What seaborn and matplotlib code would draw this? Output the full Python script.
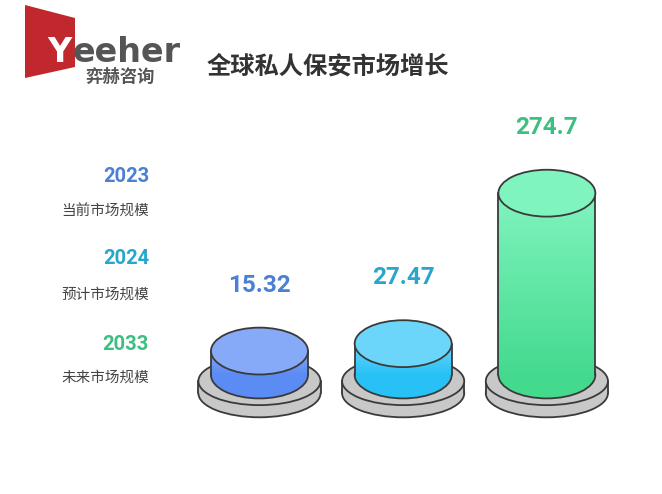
import numpy as np
import pandas as pd
import matplotlib
matplotlib.use("Agg")
import matplotlib.pyplot as plt
from matplotlib.patches import Ellipse, Rectangle, Polygon
from matplotlib.colors import LinearSegmentedColormap
import seaborn as sns

# data
years = ["2023", "2024", "2033"]
labels = ["当前市场规模", "预计市场规模", "未来市场规模"]
values = [15.32, 27.47, 274.7]
value_text = ["15.32", "27.47", "274.7"]
title = "全球私人保安市场增长"

# colours
year_colors = ["#4a80d6", "#28a6cc", "#3dbf82"]
top_colors = ["#86a9f8", "#6cd6fa", "#80f4bf"]
bottom_colors = ["#5a8cf3", "#28c1f6", "#44da8e"]
EDGE = "#3a3a3a"
PED = "#c8c8c8"

sns.set_theme(style="white")
plt.rcParams["font.family"] = ["Roboto", "Noto Sans CJK SC", "DejaVu Sans"]

# cylinder geometry (data units)
BASE = 24        # visual offset so small values still show a body
W_CYL = 0.675
W_PED = 0.85
H_ELL = 77
H_PED = 79
PED_TOP = -34
PED_BOT = -54
LW = 1.3

W, H = 662, 494


def px(x, y):
    return x / W, 1 - y / H


fig = plt.figure(figsize=(W / 100, H / 100), dpi=100)
fig.patch.set_facecolor("white")
ax = fig.add_axes([0.240, 0.1103, 0.738, 0.690])

df = pd.DataFrame({"year": years, "value": values})
sns.barplot(data=df, x="year", y="value", width=W_CYL, color="white",
            saturation=1, ax=ax, zorder=3)
bars = list(ax.patches)

for i, bar in enumerate(bars):
    v = values[i]
    x0 = bar.get_x()
    w = bar.get_width()
    xc = x0 + w / 2
    bar.set_y(-BASE)
    bar.set_height(v + BASE)
    bar.set_facecolor("none")
    bar.set_edgecolor("none")

    # pedestal
    ax.add_patch(Ellipse((xc, PED_BOT), W_PED, H_PED, fc=PED, ec=EDGE, lw=LW, zorder=1))
    ax.add_patch(Rectangle((xc - W_PED / 2, PED_BOT), W_PED, PED_TOP - PED_BOT,
                           fc=PED, ec="none", zorder=1.1))
    for sx in (xc - W_PED / 2, xc + W_PED / 2):
        ax.plot([sx, sx], [PED_BOT, PED_TOP], color=EDGE, lw=LW, zorder=1.2)
    ax.add_patch(Ellipse((xc, PED_TOP), W_PED, H_PED, fc=PED, ec=EDGE, lw=LW, zorder=1.3))

    # cylinder body
    ax.add_patch(Ellipse((xc, -BASE), w, H_ELL, fc=bottom_colors[i], ec=EDGE, lw=LW, zorder=2))
    cmap = LinearSegmentedColormap.from_list("g%d" % i, [bottom_colors[i], top_colors[i]])
    grad = np.linspace(0, 1, 256).reshape(-1, 1)
    im = ax.imshow(grad, cmap=cmap, extent=[x0, x0 + w, -BASE, v], origin="lower",
                   aspect="auto", zorder=2.5)
    im.set_clip_path(bar)
    for sx in (x0, x0 + w):
        ax.plot([sx, sx], [-BASE, v], color=EDGE, lw=LW, zorder=2.6)
    ax.add_patch(Ellipse((xc, v), w, H_ELL, fc=top_colors[i], ec=EDGE, lw=LW, zorder=3))

    ax.text(xc, v + 108, value_text[i], ha="center", va="center", fontsize=17.5,
            fontweight="bold", color=year_colors[i])

ax.set_xlim(-0.7, 2.7)
ax.set_ylim(-130, 430)
ax.axis("off")

# left legend
year_y = [176, 259, 344]
label_y = [212, 295, 378]
for i in range(3):
    fig.text(*px(149, year_y[i]), years[i], ha="right", va="center", fontsize=14.5,
             fontweight="bold", color=year_colors[i])
    fig.text(*px(149, label_y[i]), labels[i], ha="right", va="center", fontsize=10.5,
             color="#444444")

# title
fig.text(*px(207, 67), title, ha="left", va="center", fontsize=17.5,
         fontweight="bold", color="#333333")

# logo
fig.patches.append(Polygon([px(25, 5), px(75, 18), px(75, 67), px(25, 78)], closed=True,
                           fc="#c0282d", ec="none", transform=fig.transFigure, figure=fig))
fig.text(*px(72, 62), "Y", ha="right", va="baseline", fontsize=24, fontweight="bold",
         family="DejaVu Sans", color="white")
fig.text(*px(73, 62), "eeher", ha="left", va="baseline", fontsize=24, fontweight="bold",
         family="DejaVu Sans", color="#555555")
fig.text(*px(120, 77), "弈赫咨询", ha="center", va="center", fontsize=12.5,
         fontweight="bold", family=["Noto Sans CJK SC", "DejaVu Sans"], color="#555555")

fig.savefig("out.png", dpi=100, facecolor="white")
